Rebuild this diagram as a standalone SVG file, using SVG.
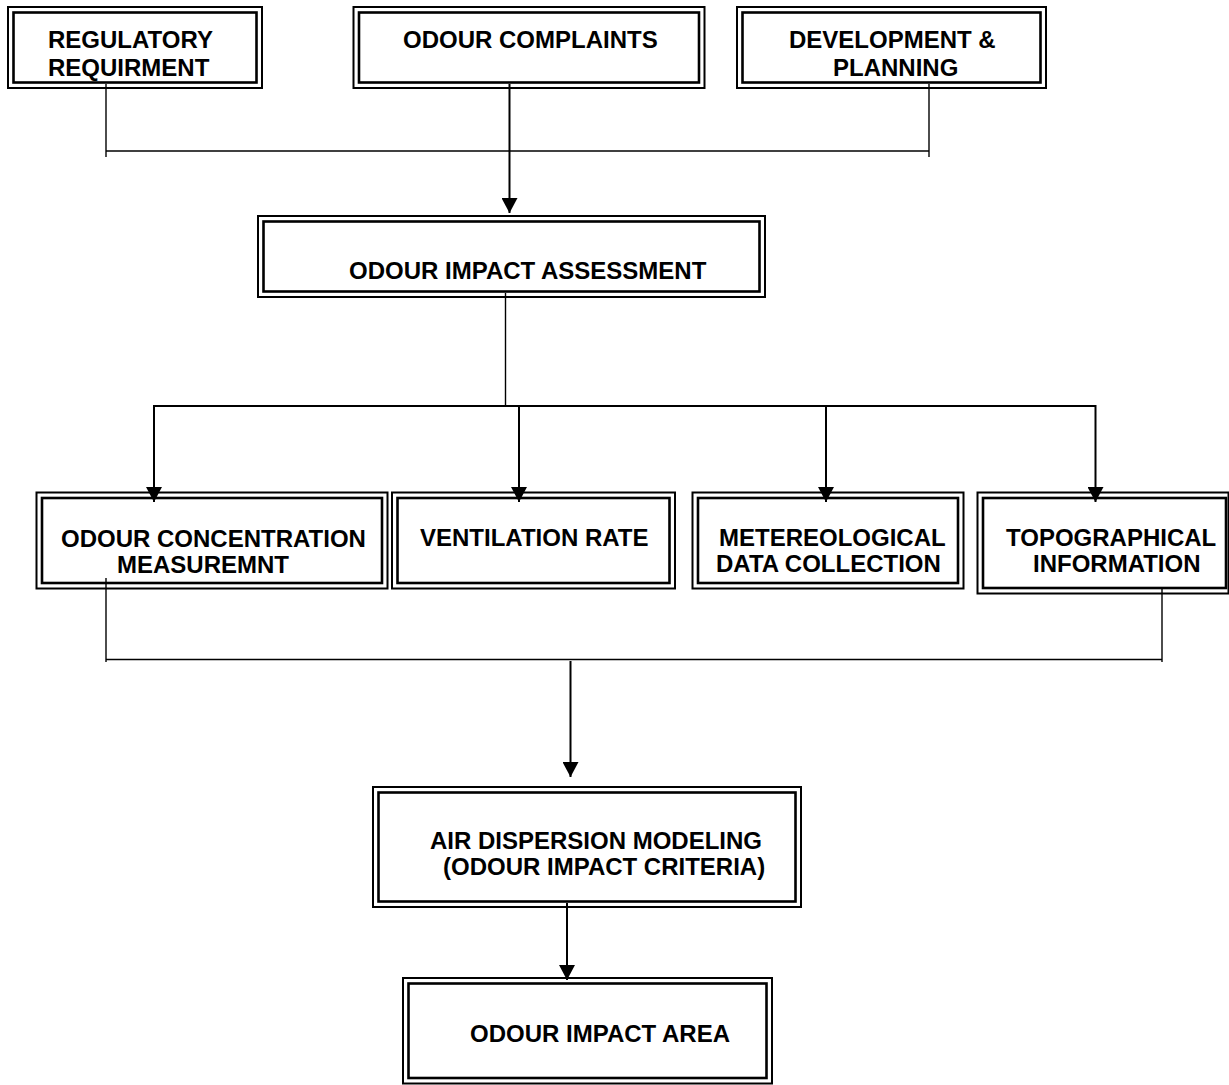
<svg xmlns="http://www.w3.org/2000/svg" width="1229" height="1085" viewBox="0 0 1229 1085">
<style>
.o{fill:none;stroke:#000;stroke-width:2}
.i{fill:none;stroke:#000;stroke-width:2.6}
.t{font-family:"Liberation Sans",Arial,sans-serif;font-weight:bold;font-size:24px;fill:#000}
.thin{stroke:#000;stroke-width:1.4;fill:none}
.shaft{stroke:#000;stroke-width:2;fill:none}
</style>
<defs>
<marker id="ah" markerUnits="userSpaceOnUse" markerWidth="16" markerHeight="16" refX="15" refY="8" orient="auto">
<path d="M0,0 L15,8 L0,16 Z" fill="#000"/>
</marker>
</defs>
<rect width="1229" height="1085" fill="#fff"/>
<g id="connectors">
<line class="thin" x1="106" y1="84" x2="106" y2="157"/>
<line class="thin" x1="929" y1="84" x2="929" y2="157"/>
<line class="thin" x1="106" y1="151" x2="929" y2="151"/>
<line class="shaft" x1="509.5" y1="84" x2="509.5" y2="213" marker-end="url(#ah)"/>
<line class="thin" x1="505.5" y1="293" x2="505.5" y2="407"/>
<line class="shaft" x1="154" y1="406" x2="1095.5" y2="406"/>
<line class="shaft" x1="154" y1="405" x2="154" y2="502" marker-end="url(#ah)"/>
<line class="shaft" x1="519" y1="406" x2="519" y2="502" marker-end="url(#ah)"/>
<line class="shaft" x1="826" y1="406" x2="826" y2="502" marker-end="url(#ah)"/>
<line class="shaft" x1="1095.5" y1="405" x2="1095.5" y2="502" marker-end="url(#ah)"/>
<line class="thin" x1="106" y1="578" x2="106" y2="662"/>
<line class="thin" x1="1162" y1="589" x2="1162" y2="662"/>
<line class="thin" x1="106" y1="659.5" x2="1162" y2="659.5"/>
<line class="shaft" x1="570.5" y1="661" x2="570.5" y2="777" marker-end="url(#ah)"/>
<line class="shaft" x1="567" y1="903" x2="567" y2="980" marker-end="url(#ah)"/>
</g>
<g id="regulatory">
<rect class="o" x="8" y="7" width="254" height="81"/>
<rect class="i" x="13.5" y="12.5" width="243" height="70"/>
<text class="t" x="48" y="48">REGULATORY</text>
<text class="t" x="48" y="76">REQUIRMENT</text>
</g>
<g id="complaints">
<rect class="o" x="353.5" y="7" width="351" height="81"/>
<rect class="i" x="359" y="12.5" width="340" height="70"/>
<text class="t" x="403" y="48">ODOUR COMPLAINTS</text>
</g>
<g id="development">
<rect class="o" x="737" y="7" width="309" height="81"/>
<rect class="i" x="742.5" y="12.5" width="298" height="70"/>
<text class="t" x="789" y="47.5">DEVELOPMENT &amp;</text>
<text class="t" x="833" y="75.5">PLANNING</text>
</g>
<g id="assessment">
<rect class="o" x="258" y="216" width="507" height="81"/>
<rect class="i" x="263.5" y="221.5" width="496" height="70"/>
<text class="t" x="349" y="279">ODOUR IMPACT ASSESSMENT</text>
</g>
<g id="concentration">
<rect class="o" x="36.5" y="492.5" width="351" height="96"/>
<rect class="i" x="42" y="498" width="340" height="85"/>
<text class="t" x="61" y="546.7">ODOUR CONCENTRATION</text>
<text class="t" x="117" y="573.3">MEASUREMNT</text>
</g>
<g id="ventilation">
<rect class="o" x="392" y="492.5" width="283" height="96"/>
<rect class="i" x="397.5" y="498" width="272" height="85"/>
<text class="t" x="420" y="545.7">VENTILATION RATE</text>
</g>
<g id="meteorological">
<rect class="o" x="692.5" y="492.5" width="271" height="96"/>
<rect class="i" x="698" y="498" width="260" height="85"/>
<text class="t" x="719" y="545.7">METEREOLOGICAL</text>
<text class="t" x="716" y="572.3">DATA COLLECTION</text>
</g>
<g id="topographical">
<rect class="o" x="977.5" y="492.5" width="251" height="101"/>
<rect class="i" x="983" y="498" width="243" height="90"/>
<text class="t" x="1006" y="545.7">TOPOGRAPHICAL</text>
<text class="t" x="1033" y="572.3">INFORMATION</text>
</g>
<g id="dispersion">
<rect class="o" x="373" y="787" width="428" height="120"/>
<rect class="i" x="378.5" y="792.5" width="417" height="109"/>
<text class="t" x="430" y="849">AIR DISPERSION MODELING</text>
<text class="t" x="443" y="875">(ODOUR IMPACT CRITERIA)</text>
</g>
<g id="impactarea">
<rect class="o" x="403" y="978" width="369" height="105.5"/>
<rect class="i" x="408.5" y="983.5" width="358" height="94.5"/>
<text class="t" x="470" y="1042">ODOUR IMPACT AREA</text>
</g>
</svg>
